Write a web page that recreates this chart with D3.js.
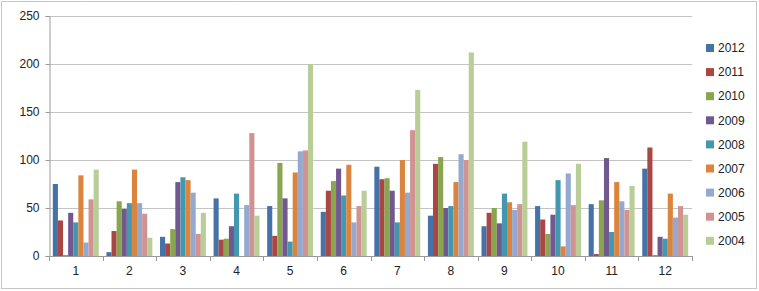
<!DOCTYPE html>
<html>
<head>
<meta charset="utf-8">
<script src="https://cdn.jsdelivr.net/npm/d3@7"></script>
<style>
  body { margin: 0; background: #fff; }
  svg text { font-family: "Liberation Sans", Arial, sans-serif; font-size: 12px; fill: #222; }
</style>
</head>
<body>
<svg id="chart" width="759" height="291"></svg>
<script>
// Data
const months = ["1", "2", "3", "4", "5", "6", "7", "8", "9", "10", "11", "12"];
const years = ["2012", "2011", "2010", "2009", "2008", "2007", "2006", "2005", "2004"];
const colors = ["#4572A7", "#AA4643", "#89A54E", "#71588F", "#4198AF", "#DB843D", "#93A9CF", "#D19392", "#B9CD96"];
const yTicks = [0, 50, 100, 150, 200, 250];

const v2012 = [75, 4, 20, 60, 52, 46, 93, 42, 31, 52, 54, 91];
const v2011 = [37, 26, 13, 17, 21, 68, 80, 96, 45, 38, 2, 113];
const v2010 = [1, 57, 28, 18, 97, 78, 81, 103, 50, 23, 58, 1];
const v2009 = [45, 49, 77, 31, 60, 91, 68, 50, 34, 43, 102, 20];
const v2008 = [35, 55, 82, 65, 15, 63, 35, 52, 65, 79, 25, 18];
const v2007 = [84, 90, 79, 0, 87, 95, 100, 77, 56, 10, 77, 65];
const v2006 = [14, 55, 66, 53, 109, 35, 66, 106, 48, 86, 57, 40];
const v2005 = [59, 44, 23, 128, 110, 52, 131, 100, 54, 53, 48, 52];
const v2004 = [90, 19, 45, 42, 200, 68, 173, 212, 119, 96, 73, 43];
const series = [v2012, v2011, v2010, v2009, v2008, v2007, v2006, v2005, v2004];

const svg = d3.select("#chart");

// outer dotted frame
svg.append("rect")
  .attr("x", 1.5).attr("y", 1.5)
  .attr("width", 755).attr("height", 287)
  .attr("fill", "none")
  .attr("stroke", "#8c8c8c")
  .attr("stroke-dasharray", "1,1");

const x0 = d3.scaleBand().domain(months).range([49, 692]).paddingInner(0).paddingOuter(0);
const x1 = d3.scaleBand().domain(years).range([0, x0.bandwidth()]).paddingInner(0).paddingOuter(0.75);
const y = d3.scaleLinear().domain([0, 250]).range([256, 16]);

// gridlines
svg.append("g")
  .selectAll("line")
  .data(yTicks.filter(d => d > 0))
  .enter().append("line")
    .attr("x1", 49).attr("x2", 692)
    .attr("y1", d => Math.round(y(d)) + 0.5)
    .attr("y2", d => Math.round(y(d)) + 0.5)
    .attr("stroke", "#c4c4c4");

// bars
const groups = svg.append("g")
  .selectAll("g")
  .data(months)
  .enter().append("g")
    .attr("transform", d => `translate(${x0(d)},0)`);

groups.selectAll("rect")
  .data((m, i) => years.map((yr, k) => ({ yr, k, value: series[k][i] })))
  .enter().append("rect")
    .attr("x", d => x1(d.yr))
    .attr("width", x1.bandwidth())
    .attr("y", d => y(d.value))
    .attr("height", d => y(0) - y(d.value))
    .attr("fill", d => colors[d.k]);

// y axis
const yAxis = svg.append("g")
  .attr("transform", "translate(49.5,0)")
  .call(d3.axisLeft(y).tickValues(yTicks).tickSize(4).tickPadding(6));
yAxis.select(".domain").attr("stroke", "#9a9a9a");
yAxis.selectAll(".tick line").attr("stroke", "#9a9a9a");
yAxis.selectAll("text").attr("font-size", 12).attr("fill", "#222");

// x axis
const xAxis = svg.append("g")
  .attr("transform", "translate(0,256.5)")
  .call(d3.axisBottom(x0).tickSize(0).tickPadding(10));
xAxis.select(".domain").attr("stroke", "#9a9a9a").attr("d", "M49,0H692");
xAxis.selectAll("text").attr("font-size", 12).attr("fill", "#222");

// tick marks between the groups
svg.append("g")
  .selectAll("line")
  .data(months.map(m => x0(m)).concat([x0.range()[1]]))
  .enter().append("line")
    .attr("x1", d => Math.round(d) + 0.5).attr("x2", d => Math.round(d) + 0.5)
    .attr("y1", 256).attr("y2", 261)
    .attr("stroke", "#9a9a9a");

// legend
const legend = svg.append("g")
  .selectAll("g")
  .data(years)
  .enter().append("g")
    .attr("transform", (d, i) => `translate(706,${48 + i * 24.1})`);

legend.append("rect")
  .attr("x", 0).attr("y", -4)
  .attr("width", 8).attr("height", 8)
  .attr("fill", (d, i) => colors[i]);

legend.append("text")
  .attr("x", 12).attr("y", 0)
  .attr("dy", "0.35em")
  .attr("font-size", 12)
  .text(d => d);
</script>
</body>
</html>
